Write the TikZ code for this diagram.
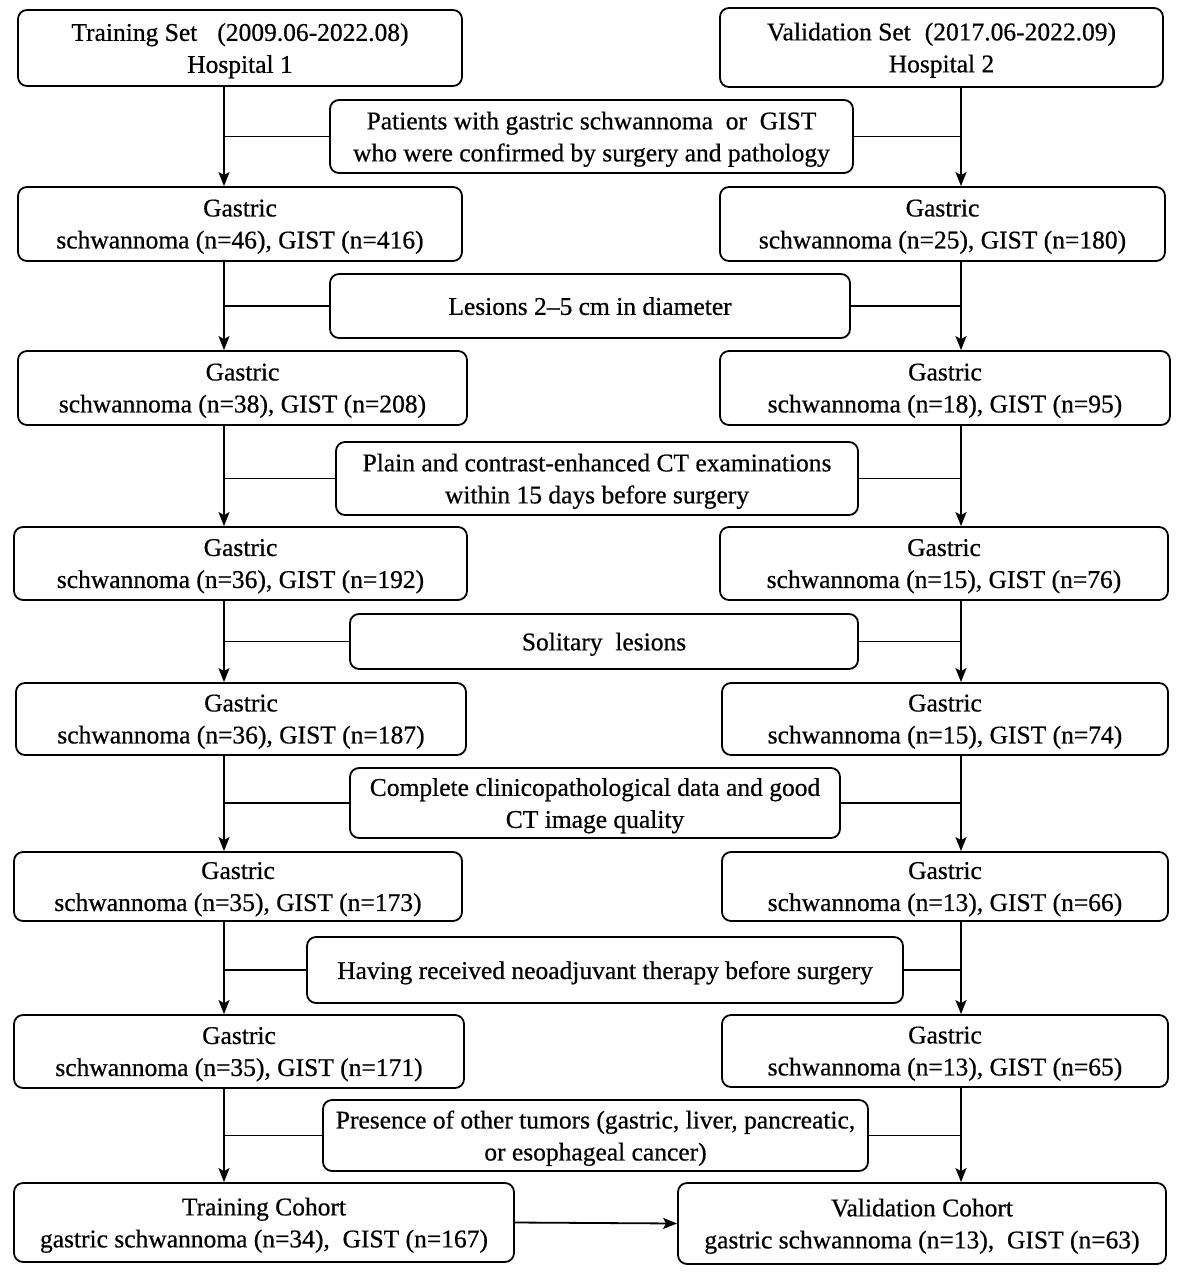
\documentclass[tikz,border=0pt]{standalone}
\usepackage{fontspec}
\setmainfont{Liberation Serif}[FakeBold=0.6]
\usetikzlibrary{arrows.meta}
\begin{document}
\begin{tikzpicture}[x=1pt,y=-1pt,
  every node/.style={font=\fontsize{25.5}{32}\selectfont},
  box/.style={draw, line width=1.8pt, rounded corners=9pt, align=center, inner sep=0pt, text depth=0pt},
  link/.style={line width=1.8pt},
  arr/.style={line width=1.8pt, -{Stealth[length=14pt,width=11pt,inset=3pt]}}]
\useasboundingbox (0,0) rectangle (1181,1280);
\coordinate (lx) at (224,0);
\coordinate (rx) at (961,0);
% row boxes
\node[box, minimum width=444pt, minimum height=76pt] (L1) at (240,48) {Training Set\hspace{20pt}(2009.06-2022.08)\\Hospital 1};
\node[box, minimum width=443pt, minimum height=79pt] (R1) at (941.5,47.5) {Validation Set\hspace{14pt}(2017.06-2022.09)\\Hospital 2};
\node[box, minimum width=523pt, minimum height=73pt] (C1) at (591.5,136.5) {Patients with gastric schwannoma\ \ or\ \ GIST\\who were confirmed by surgery and pathology};
\node[box, minimum width=444pt, minimum height=74pt] (L2) at (240,224) {Gastric\\schwannoma (n=46), GIST (n=416)};
\node[box, minimum width=445pt, minimum height=74pt] (R2) at (942.5,224) {Gastric\\schwannoma (n=25), GIST (n=180)};
\node[box, minimum width=520pt, minimum height=64pt] (C2) at (590,306) {Lesions 2–5 cm in diameter};
\node[box, minimum width=449pt, minimum height=74pt] (L3) at (242.5,388) {Gastric\\schwannoma (n=38), GIST (n=208)};
\node[box, minimum width=450pt, minimum height=74pt] (R3) at (945,388) {Gastric\\schwannoma (n=18), GIST (n=95)};
\node[box, minimum width=522pt, minimum height=73pt] (C3) at (597,478.5) {Plain and contrast-enhanced CT examinations\\within 15 days before surgery};
\node[box, minimum width=453pt, minimum height=73pt] (L4) at (240.5,563.5) {Gastric\\schwannoma (n=36), GIST (n=192)};
\node[box, minimum width=448pt, minimum height=73pt] (R4) at (944,563.5) {Gastric\\schwannoma (n=15), GIST (n=76)};
\node[box, minimum width=508pt, minimum height=55pt] (C4) at (604,641.5) {Solitary\ \ lesions};
\node[box, minimum width=450pt, minimum height=72pt] (L5) at (241,719) {Gastric\\schwannoma (n=36), GIST (n=187)};
\node[box, minimum width=446pt, minimum height=72pt] (R5) at (945,719) {Gastric\\schwannoma (n=15), GIST (n=74)};
\node[box, minimum width=490pt, minimum height=70pt] (C5) at (595,803) {Complete clinicopathological data and good\\CT image quality};
\node[box, minimum width=448pt, minimum height=69pt] (L6) at (238,886.5) {Gastric\\schwannoma (n=35), GIST (n=173)};
\node[box, minimum width=446pt, minimum height=69pt] (R6) at (945,886.5) {Gastric\\schwannoma (n=13), GIST (n=66)};
\node[box, minimum width=596pt, minimum height=66pt] (C6) at (605,970) {Having received neoadjuvant therapy before surgery};
\node[box, minimum width=450pt, minimum height=73pt] (L7) at (239,1051.5) {Gastric\\schwannoma (n=35), GIST (n=171)};
\node[box, minimum width=446pt, minimum height=72pt] (R7) at (945,1051) {Gastric\\schwannoma (n=13), GIST (n=65)};
\node[box, minimum width=545pt, minimum height=71pt] (C7) at (595.5,1135.5) {Presence of other tumors (gastric, liver, pancreatic,\\or esophageal cancer)};
\node[box, minimum width=500pt, minimum height=79pt] (L8) at (264,1222.5) {Training Cohort\\gastric schwannoma (n=34),\ \ GIST (n=167)};
\node[box, minimum width=488pt, minimum height=81pt] (R8) at (922,1223.5) {Validation Cohort\\gastric schwannoma (n=13),\ \ GIST (n=63)};
% vertical arrows
\foreach \a/\b in {1/2,2/3,3/4,4/5,5/6,6/7,7/8}{
  \draw[arr] (L\a.south -| lx) -- (L\b.north -| lx);
  \draw[arr] (R\a.south -| rx) -- (R\b.north -| rx);
}
% criterion links
\foreach \c in {1,...,7}{
  \draw[link] (C\c.west) -- (C\c.west -| lx);
  \draw[link] (C\c.east) -- (C\c.east -| rx);
}
\draw[arr] (L8.east) -- (R8.west);
\end{tikzpicture}
\end{document}
